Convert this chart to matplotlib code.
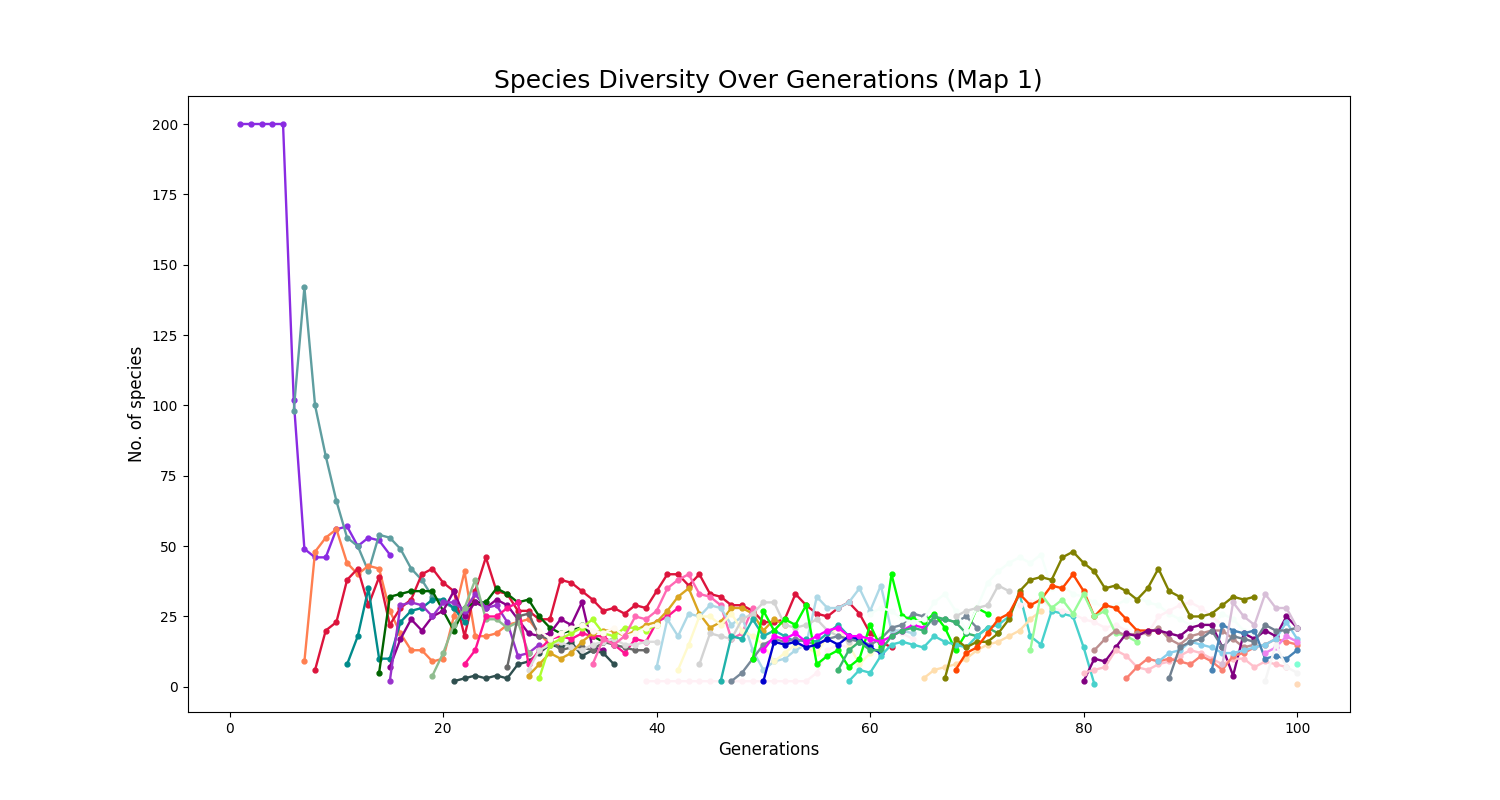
#!/usr/bin/env python

import matplotlib
matplotlib.use('Agg')
import matplotlib.pyplot as plt

# data: each species is (first generation, no. of species per generation)
founder = [200, 200, 200, 200, 200, 102, 49, 46, 46, 56, 57, 50, 53, 52, 47]
cadet = [98, 142, 100, 82, 66, 53, 50, 41, 54, 53, 49, 42, 38, 32, 30, 28, 26]
coral = [9, 48, 53, 56, 44, 40, 43, 42, 27, 19, 13, 13, 9, 10, 25, 41, 18, 18, 19, 22, 23, 24, 19, 15, 15]
crimson = [6, 20, 23, 38, 42, 29, 39, 22, 28, 31, 40, 42, 37, 34, 18, 34, 46, 34, 33, 27, 27, 24, 24, 38, 37,
           34, 31, 27, 28, 26, 29, 28, 34, 40, 40, 36, 40, 33, 32, 29, 29, 27, 23, 23, 24, 33, 29, 26, 25, 28,
           30, 26, 19, 16, 14]
teal = [8, 18, 35, 10, 10, 23, 27, 28, 31, 31, 28, 23]
darkgreen = [5, 32, 33, 34, 34, 34, 27, 20, 28, 30, 30, 35, 33, 30, 31, 25, 21, 19, 20, 22, 18, 16, 17]
purple = [7, 17, 24, 20, 25, 27, 34, 25, 30, 28, 31, 29, 24, 19, 18, 19, 24, 22, 30, 14, 13]
orchid = [2, 29, 30, 29, 25, 30, 30, 27, 33, 28, 29, 23, 11, 12, 15]
seagreen_pale = [4, 12, 22, 28, 38, 24, 24, 21, 23, 12]
slate_dark = [2, 3, 4, 3, 4, 3, 8, 9, 12, 15, 14, 16, 11, 13, 12, 8]
deeppink = [8, 13, 25, 25, 28, 30, 8, 13, 17, 18, 17, 19, 18, 18, 15, 12, 17, 16, 23, 25, 28]
dimgray = [7, 25, 26, 18, 17, 13, 14, 14, 13, 16, 15, 14, 13, 13]
silver_a = [6, 13, 15, 16, 14, 13, 15, 16, 17, 15, 15, 16, 16]
goldenrod = [4, 8, 12, 10, 12, 16, 19, 20, 20, 18, 20, 22, 23, 27, 32, 35, 26, 21, 23, 28, 28, 26, 20, 24, 22]
greenyellow = [3, 15, 17, 19, 21, 24, 19, 18, 21, 21, 20, 22]
floral = [20, 17, 19, 21, 22, 20, 19, 21, 18, 19, 21, 22]
hotpink = [8, 17, 15, 18, 25, 24, 27, 35, 38, 40, 33, 32, 29, 17, 19, 28]
blush = [2, 2, 2, 2, 2, 2, 2, 2, 2, 2, 2, 2, 2, 2, 2, 2, 5, 13, 15, 14, 16, 17, 18, 20, 19, 17]
lightblue = [7, 24, 18, 26, 25, 29, 28, 22, 25, 13, 6, 9, 10, 13, 15, 32, 28, 28, 30, 35, 27, 36, 20, 20, 19]
chiffon = [6, 15, 25, 25, 22, 26, 20, 18, 15, 9, 12, 15, 14, 12, 18, 21, 15, 8, 12, 14]
silver_b = [8, 19, 18, 17, 24, 26, 30, 30, 22, 21, 22, 24, 20, 18, 16]
lightsea = [2, 18, 17, 24, 18, 20, 18, 16, 17, 16, 19, 22, 18, 16, 15]
slategray = [2, 5, 10, 15, 17, 16, 17, 16, 15, 17, 18, 17, 16, 15, 17, 21, 22, 26, 25, 23, 24, 23, 25, 21]
lime = [10, 27, 20, 24, 22, 29, 8, 11, 13, 7, 10, 22, 14, 40, 25, 24, 23, 26, 21, 13, 19, 28, 26]
blue = [2, 16, 15, 16, 14, 15, 17, 15, 18, 17, 14, 12]
magenta = [13, 18, 17, 19, 16, 18, 20, 21, 18, 18, 17, 16, 18, 20, 22, 21]
seagreen = [6, 13, 16, 13, 13, 18, 20, 21, 20, 25, 24, 23, 19, 18, 21, 19]
turquoise = [2, 6, 5, 11, 15, 16, 15, 14, 18, 16, 15, 14, 18, 21, 22, 25, 33, 18, 15, 27, 26, 25, 14, 1]
peach = [3, 6, 7, 8, 10, 13, 15, 16, 18, 20, 24, 27]
mint = [26, 28, 27, 24, 23, 24, 30, 33, 27, 20, 28, 37, 41, 44, 46, 44, 47, 35, 36, 33, 32, 30, 28, 29, 31,
        32, 30, 29, 26, 24, 22, 24, 21, 26, 24, 20, 18]
gray_late = [25, 27, 28, 29, 36, 34]
blush_late = [29, 30, 31, 28, 27, 26, 24, 23, 21, 22, 20, 18, 19, 25, 27, 29, 30, 28, 25, 22]
olive = [3, 17, 14, 16, 16, 19, 24, 34, 38, 39, 38, 46, 48, 44, 41, 35, 36, 34, 31, 35, 42, 34, 32, 25, 25,
         26, 29, 32, 31, 32]
orangered = [6, 12, 14, 19, 24, 26, 33, 29, 31, 36, 35, 40, 34, 25, 29, 28, 24, 20, 20, 20]
lightgreen = [13, 33, 28, 31, 26, 33, 25, 27, 19, 18, 16]
rosy = [13, 17, 20, 18, 19, 19, 21, 17, 15, 18, 19, 20, 20, 17, 14, 15]
purple_late = [2, 10, 9, 14, 19, 18, 20, 20, 19, 18, 21, 22, 22, 14, 4, 19, 17, 20, 18, 25, 21]
pink = [5, 6, 7, 13, 11, 7, 6, 8, 9, 11, 13, 12, 10, 8, 10, 10, 7, 9, 8, 7]
salmon = [3, 7, 10, 9, 10, 9, 8, 11, 9, 6, 11, 12, 14, 15, 17, 16, 15]
skyblue = [9, 12, 13, 16, 15, 14, 12, 12, 13, 14, 15, 17, 23, 17]
slategray_late = [3, 14, 16, 17, 20, 14, 18, 17, 16, 22, 20, 20, 21]
steelblue = [6, 22, 20, 19, 20, 10, 11, 10, 13]
thistle = [8, 30, 25, 22, 33, 28, 28, 21]
violet = [12, 14, 18, 16]
smoke = [2, 15, 7, 5]
aqua_last = [8]
peach_last = [1]

# order matters, later species are drawn on top
species = [
    (1, founder, 'blueviolet'), (6, cadet, 'cadetblue'), (7, coral, 'coral'), (8, crimson, 'crimson'),
    (11, teal, 'darkcyan'), (14, darkgreen, 'darkgreen'), (15, purple, 'darkmagenta'),
    (15, orchid, 'darkorchid'), (19, seagreen_pale, 'darkseagreen'), (21, slate_dark, 'darkslategray'),
    (22, deeppink, 'deeppink'), (26, dimgray, 'dimgray'), (28, silver_a, 'gainsboro'),
    (28, goldenrod, 'goldenrod'), (29, greenyellow, 'greenyellow'), (29, floral, 'floralwhite'),
    (34, hotpink, 'hotpink'), (39, blush, 'lavenderblush'), (40, lightblue, 'lightblue'),
    (42, chiffon, 'lemonchiffon'), (44, silver_b, 'lightgray'), (46, lightsea, 'lightseagreen'),
    (47, slategray, 'lightslategray'), (49, lime, 'lime'), (50, blue, 'mediumblue'),
    (50, magenta, 'magenta'), (57, seagreen, 'mediumseagreen'), (58, turquoise, 'mediumturquoise'),
    (60, mint, 'mintcream'), (65, peach, 'navajowhite'), (68, gray_late, 'lightgray'),
    (74, blush_late, 'lavenderblush'), (67, olive, 'olive'),
    (68, orangered, 'orangered'), (75, lightgreen, 'palegreen'), (81, rosy, 'rosybrown'),
    (80, purple_late, 'purple'), (80, pink, 'pink'),
    (84, salmon, 'salmon'), (87, skyblue, 'skyblue'), (88, slategray_late, 'slategray'),
    (92, steelblue, 'steelblue'), (93, thistle, 'thistle'), (97, violet, 'violet'),
    (97, smoke, 'whitesmoke'), (100, aqua_last, 'aquamarine'), (100, peach_last, 'peachpuff'),
]

fig, ax = plt.subplots(figsize=(15, 8))

for start, values, color in species:
    gens = list(range(start, start + len(values)))
    ax.plot(gens, values, '-o', color=color, linewidth=1.7, markersize=3.5)

ax.set_title('Species Diversity Over Generations (Map 1)', fontsize=18)
ax.set_xlabel('Generations', fontsize=12)
ax.set_ylabel('No. of species', fontsize=12)

fig.savefig('out.png', dpi=100)
